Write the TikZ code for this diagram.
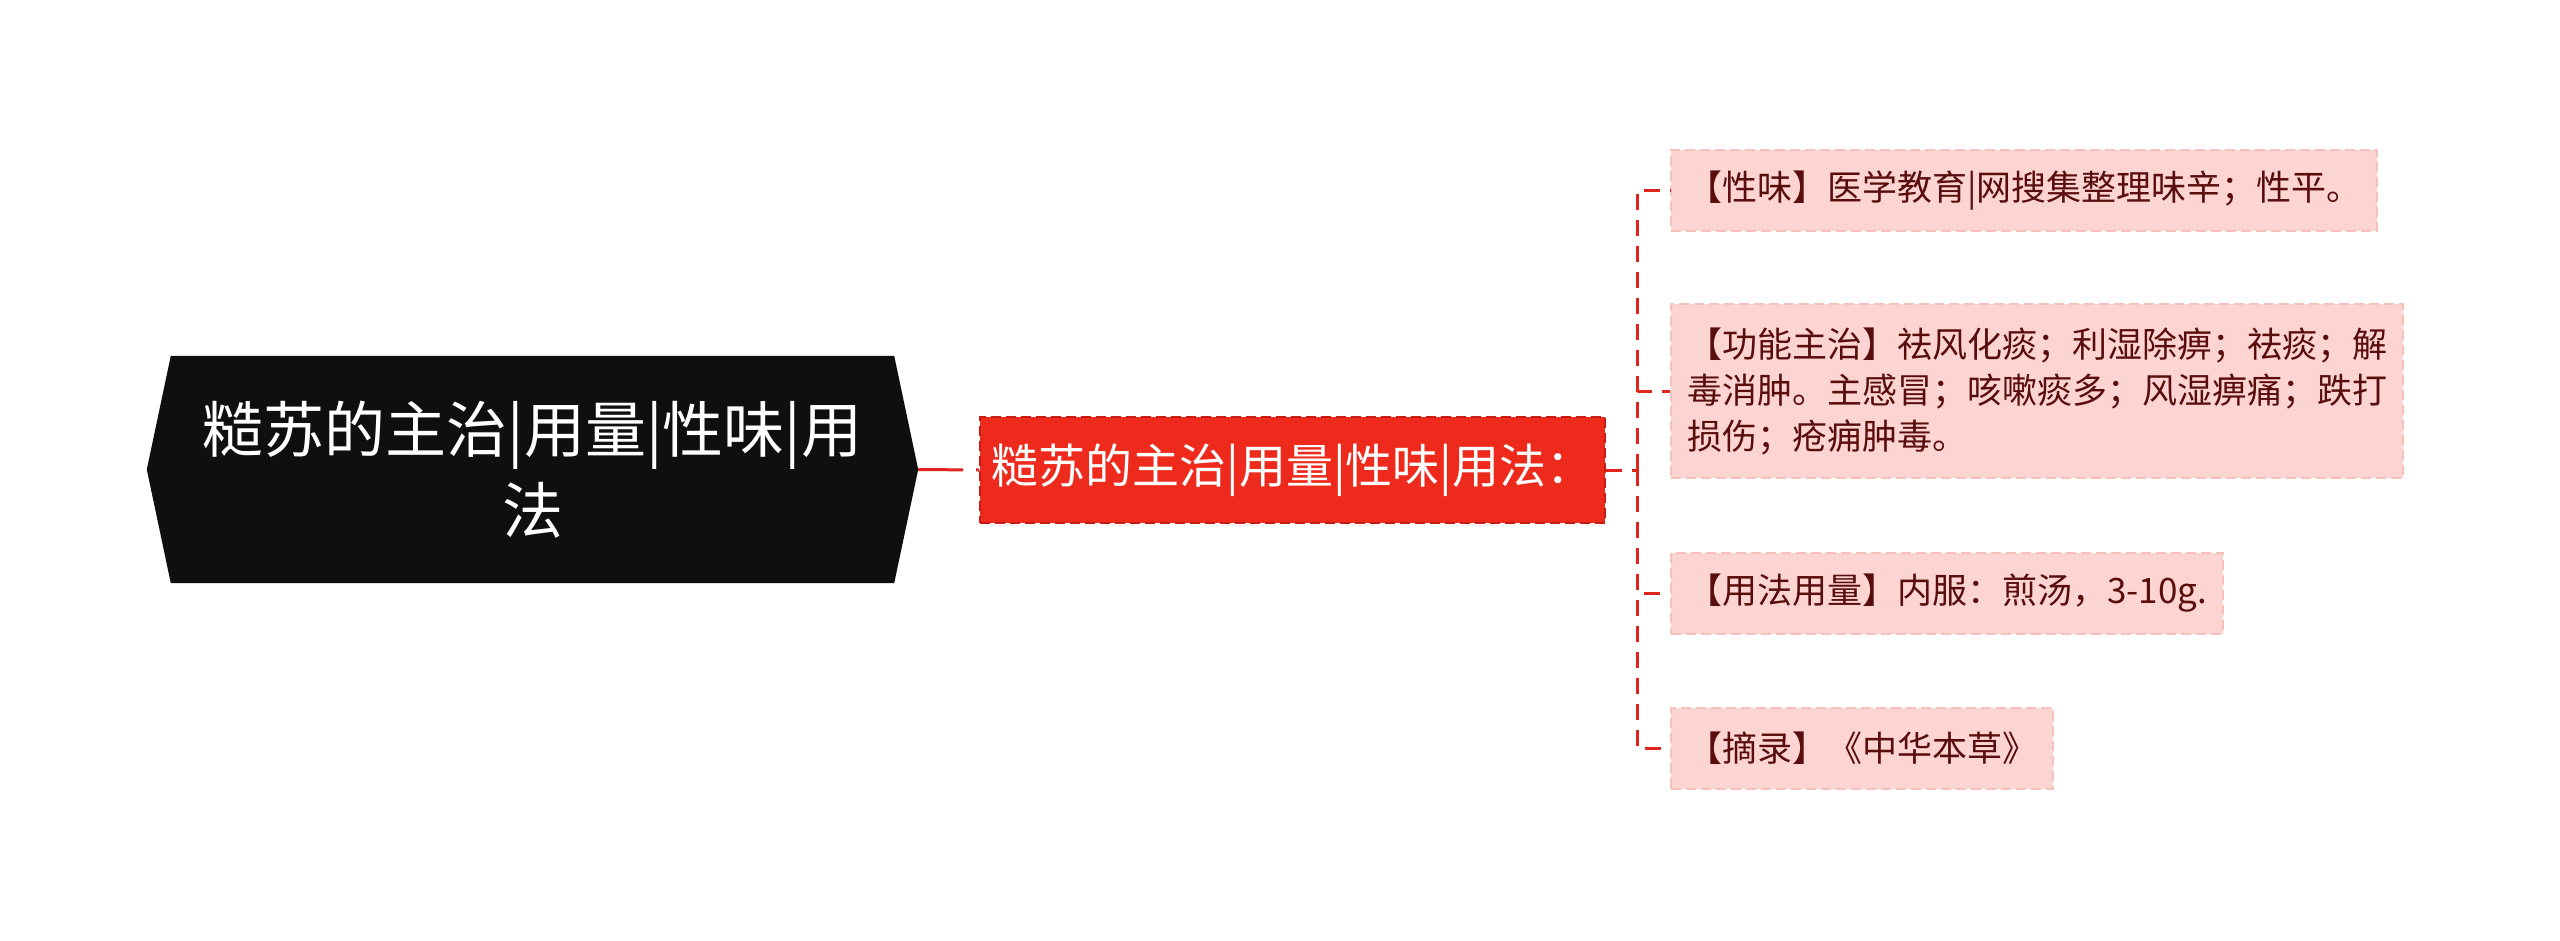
\documentclass[tikz,border=0pt]{standalone}
\usepackage{fontspec}
\setmainfont{Noto Sans CJK SC}
\usetikzlibrary{backgrounds}
\definecolor{rootfill}{HTML}{0F0F0F}
\definecolor{midfill}{HTML}{EE2A1C}
\definecolor{midborder}{HTML}{C61C14}
\definecolor{leaffill}{HTML}{FCD5D2}
\definecolor{leafborder}{HTML}{F6C0BB}
\definecolor{leaftext}{HTML}{5A0D0D}
\definecolor{linkred}{HTML}{E0261C}
\begin{document}
\begin{tikzpicture}[x=1pt,y=-1pt,
  leaf/.style={anchor=west, fill=leaffill, draw=leafborder, line width=2pt,
    dash pattern=on 10pt off 5pt, text=leaftext, font=\fontsize{35}{46}\selectfont,
    inner xsep=16pt, inner ysep=0pt, minimum height=81pt, align=left},
  link/.style={draw=linkred, line width=3pt, dash pattern=on 16pt off 10pt}]
\useasboundingbox (0,0) rectangle (2560,940);
\begin{scope}[on background layer]
\fill[white] (0,0) rectangle (2560,940);
\end{scope}
\node[text=white, font=\fontsize{61}{81}\selectfont, align=center,
  minimum width=771pt, minimum height=227pt, inner sep=0pt] (root) at (532.5,469.5)
  {糙苏的主治|用量|性味|用\\法};
\begin{scope}[on background layer]
\fill[rootfill] (root.west) -- ([xshift=24pt]root.north west) -- ([xshift=-24pt]root.north east)
  -- (root.east) -- ([xshift=-24pt]root.south east) -- ([xshift=24pt]root.south west) -- cycle;
\end{scope}
\node[fill=midfill, draw=midborder, line width=2pt, dash pattern=on 10pt off 5pt,
  text=white, font=\fontsize{47}{58}\selectfont, minimum width=625pt,
  minimum height=106pt, inner sep=0pt] (mid) at (1292.5,470) {糙苏的主治|用量|性味|用法：};
\node[leaf] (l1) at (1670,190.5) {【性味】医学教育|网搜集整理味辛；性平。};
\node[leaf, minimum height=174pt] (l2) at (1670,391) {【功能主治】祛风化痰；利湿除痹；祛痰；解\\毒消肿。主感冒；咳嗽痰多；风湿痹痛；跌打\\损伤；疮痈肿毒。};
\node[leaf] (l3) at (1670,593) {【用法用量】内服：煎汤，3-10g.};
\node[leaf] (l4) at (1670,748) {【摘录】《中华本草》};
\coordinate (hub) at (1637,470);
\draw[link, dash pattern=on 45pt off 13pt] (root.east) -- (mid.west);
\draw[link] (mid.east) -- (hub);
\draw[link] (hub) |- (l1.west);
\draw[link] (hub) |- (l2.west);
\draw[link] (hub) |- (l3.west);
\draw[link] (hub) |- (l4.west);
\end{tikzpicture}
\end{document}
